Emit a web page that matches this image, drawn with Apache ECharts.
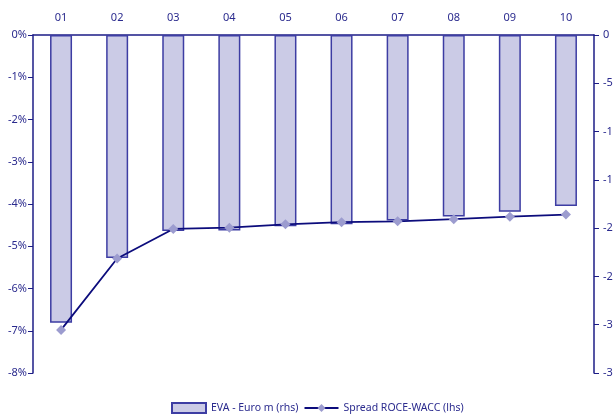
<!DOCTYPE html>
<html>
<head>
<meta charset="utf-8">
<script src="https://cdn.jsdelivr.net/npm/echarts@6/dist/echarts.min.js"></script>
<style>
  html, body { margin: 0; padding: 0; background: #fff; }
  #chart { width: 613px; height: 415px; }
</style>
</head>
<body>
<div id="chart"></div>
<script>
// Year labels along the top axis
const years = ['01', '02', '03', '04', '05', '06', '07', '08', '09', '10'];

// EVA in Euro m, plotted against the right-hand axis
const evaEuroM = [-29.8, -23.1, -20.3, -20.25, -19.8, -19.6, -19.2, -18.8, -18.3, -17.7];

// Spread ROCE-WACC in percent, plotted against the left-hand axis
const spreadPct = [-6.98, -5.29, -4.59, -4.56, -4.48, -4.43, -4.41, -4.36, -4.30, -4.25];

const navy = '#1c1c86';
const textNavy = '#2b2b8e';
const font = 'Noto Sans';

const chart = echarts.init(document.getElementById('chart'), null, { renderer: 'canvas' });

chart.setOption({
  animation: false,
  textStyle: { fontFamily: font },
  grid: { left: 33, right: 19, top: 35, bottom: 42, containLabel: false, outerBoundsMode: 'none' },
  legend: {
    top: 397,
    left: 166,
    itemWidth: 34,
    itemHeight: 10,
    itemGap: 5,
    textStyle: { color: textNavy, fontSize: 10.5, fontFamily: font },
    data: [
      { name: 'EVA - Euro m (rhs)', icon: 'rect' },
      { name: 'Spread ROCE-WACC (lhs)' }
    ]
  },
  xAxis: {
    type: 'category',
    position: 'top',
    data: years,
    boundaryGap: true,
    axisLine: { lineStyle: { color: navy, width: 1.5 } },
    axisTick: { inside: true, length: 4, lineStyle: { color: navy } },
    axisLabel: { color: textNavy, fontSize: 11, margin: 12 }
  },
  yAxis: [
    {
      type: 'value',
      min: -8, max: 0, interval: 1,
      position: 'left',
      axisLine: { show: true, lineStyle: { color: navy, width: 1.5 } },
      axisTick: { show: true, length: 5, lineStyle: { color: navy } },
      splitLine: { show: false },
      axisLabel: { color: textNavy, fontSize: 11, margin: 6, formatter: '{value}%' }
    },
    {
      type: 'value',
      min: -35, max: 0, interval: 5,
      position: 'right',
      axisLine: { show: true, lineStyle: { color: navy, width: 1.5 } },
      axisTick: { show: true, length: 5, lineStyle: { color: navy } },
      splitLine: { show: false },
      axisLabel: { color: textNavy, fontSize: 11, margin: 9 }
    }
  ],
  series: [
    {
      name: 'EVA - Euro m (rhs)',
      type: 'bar',
      yAxisIndex: 1,
      data: evaEuroM,
      barWidth: 22,
      itemStyle: { color: '#cbcbe6', borderColor: '#3d3da3', borderWidth: 1.5 },
      z: 2
    },
    {
      name: 'Spread ROCE-WACC (lhs)',
      type: 'line',
      yAxisIndex: 0,
      data: spreadPct,
      symbol: 'diamond',
      symbolSize: 10,
      lineStyle: { color: '#0c0c7c', width: 1.8 },
      itemStyle: { color: '#9c9ccf' },
      z: 3
    }
  ]
});
</script>
</body>
</html>
